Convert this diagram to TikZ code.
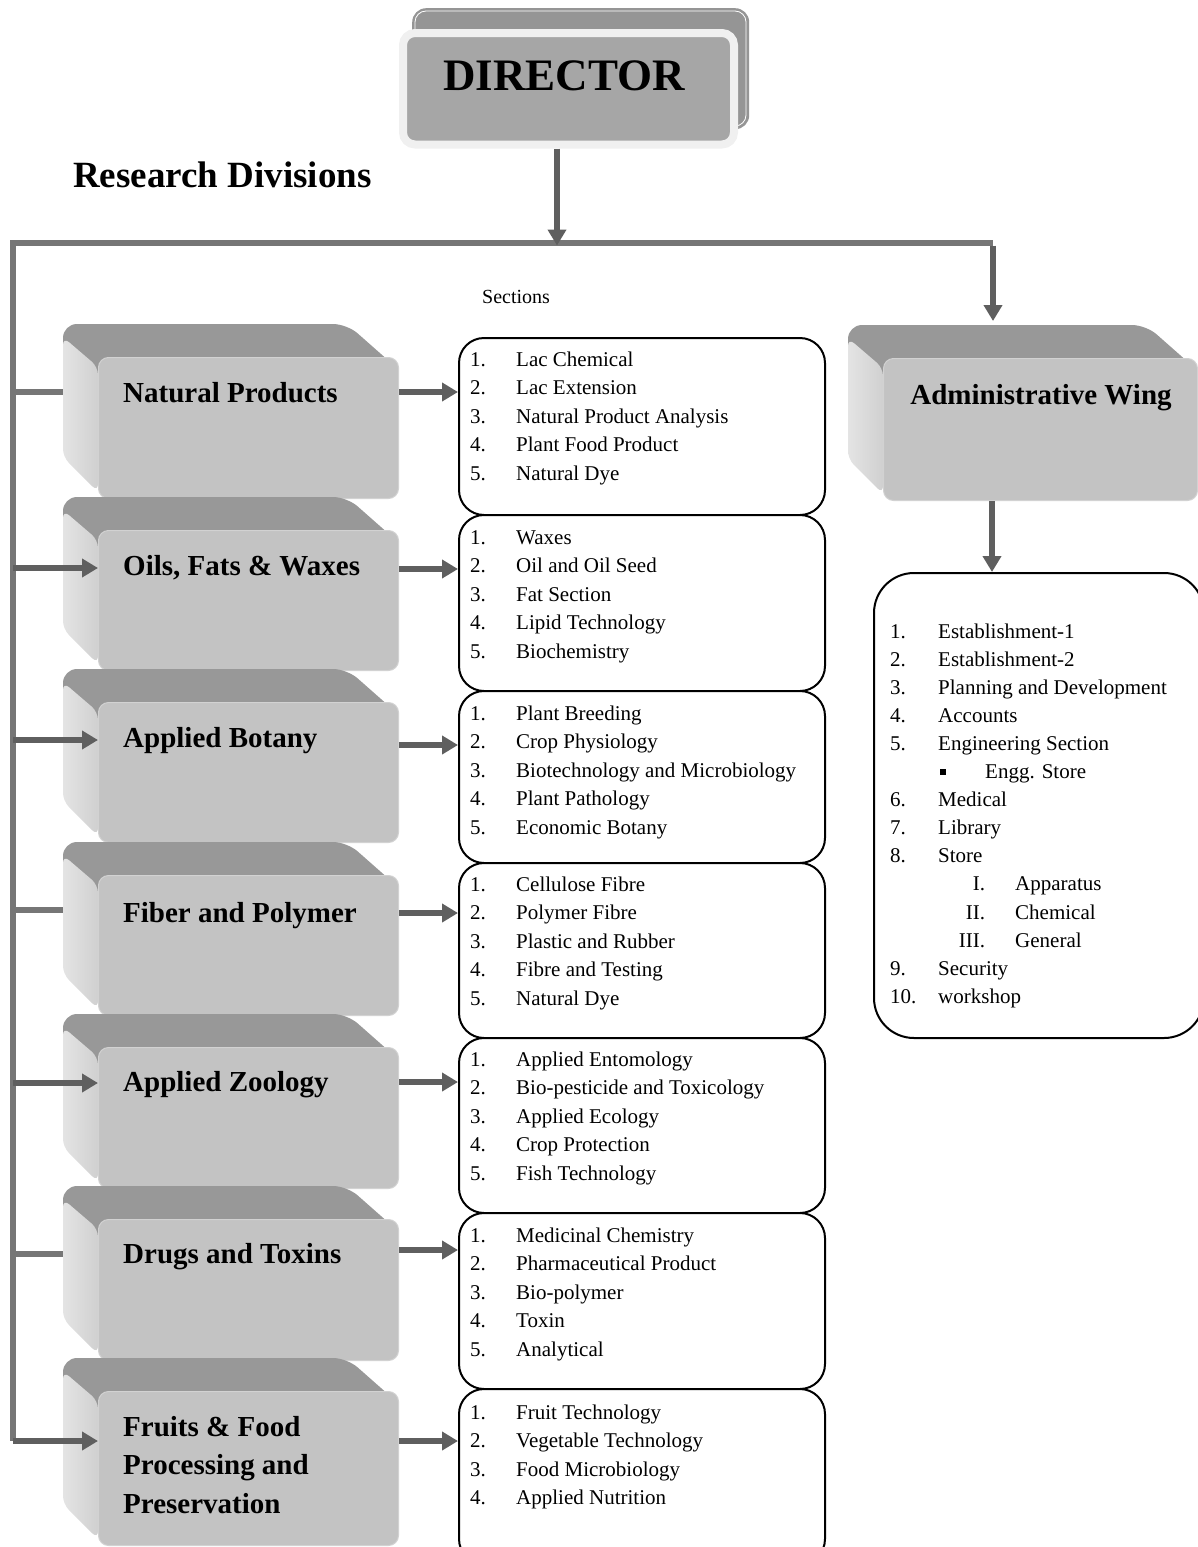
\documentclass[tikz,border=0pt]{standalone}
\usepackage{fontspec}
\setmainfont{Liberation Serif}
\usetikzlibrary{arrows.meta}
\pgfdeclarelayer{background}
\pgfsetlayers{background,main}
\definecolor{conn}{HTML}{5F5F5F}
\definecolor{bus}{HTML}{767676}
\definecolor{topc}{HTML}{989898}
\definecolor{leftl}{HTML}{E4E4E4}
\definecolor{leftd}{HTML}{D0D0D0}
\definecolor{frontc}{HTML}{C3C3C3}
\definecolor{frontrim}{HTML}{D2D2D2}
\definecolor{dirback}{HTML}{959595}
\definecolor{dirfront}{HTML}{A6A6A6}
\definecolor{dirrim}{HTML}{F0F0F0}
\tikzset{
  busline/.style={draw=bus, line width=5.5pt},
  arr/.style={draw=conn, line width=5.5pt, -{Triangle[length=16pt,width=18pt]}},
  frontface/.style={fill=frontc, draw=frontrim, line width=1pt, rounded corners=10pt, inner sep=0pt, anchor=north west},
  divtext/.style={font=\fontsize{29}{38.5}\selectfont\bfseries, inner sep=0pt, anchor=base west},
  listbox/.style={draw=black, line width=2pt, rounded corners=25pt, fill=white, inner sep=0pt, anchor=north west, minimum width=366pt},
  listtext/.style={font=\fontsize{21}{28.5}\selectfont, inner sep=0pt, anchor=base west},
}
% bevelled division box: name, x1, y1, x2, y2 of the front face
\newcommand\bevelbox[5]{%
  \fill[topc, rounded corners=14pt] ({#2-35},{#3-33}) -- ({#4-51},{#3-33}) -- (#4,{#3+12}) -- (#4,{#5-12}) -- (#2,{#5-12}) -- ({#2-35},{#5-41}) -- cycle;
  \shade[left color=leftl, right color=leftd, rounded corners=8pt] ({#2-35},{#3-20}) -- (#2,{#3+10}) -- (#2,{#5-6}) -- ({#2-35},{#5-41}) -- cycle;
  \node[frontface, minimum width={#4-#2}, minimum height={#5-#3}] (#1) at (#2,#3) {};
}
\newcommand\lst[2]{\makebox[46pt][l]{#1}#2}
\begin{document}
\begin{tikzpicture}[x=1pt,y=-1pt]
\useasboundingbox (0,0) rectangle (1198,1547);
\clip (0,0) rectangle (1198,1547);

% ---------- Director ----------
\node[fill=dirback, rounded corners=14pt, minimum width=337pt, minimum height=121pt, inner sep=0pt, anchor=north west] (dirbk) at (412,8) {};
\draw[white, line width=0.8pt, rounded corners=11pt] (415,11) rectangle (746,126);
\node[fill=dirfront, draw=dirrim, line width=8pt, rounded corners=12pt, minimum width=331pt, minimum height=111.5pt, inner sep=0pt, anchor=north west] (dir) at (399,29) {};
\node[font=\fontsize{45}{50}\selectfont\bfseries, anchor=base, inner sep=0pt] (dirt) at (564,90) {DIRECTOR};

\node[font=\fontsize{37}{40}\selectfont\bfseries, anchor=base west, inner sep=0pt] (rd) at (73,187) {Research Divisions};
\node[font=\fontsize{20}{24}\selectfont, anchor=base west, inner sep=0pt] (sec) at (482,303) {Sections};

% ---------- coordinates ----------
\coordinate (bj) at (557,243);
\coordinate (busL) at (13,243);
\coordinate (busR) at (993,243);
\coordinate (awin) at (993,321);
\coordinate (busB) at (13,1441);
\coordinate (b1) at (13,392);
\coordinate (b2) at (13,568);
\coordinate (b3) at (13,740);
\coordinate (b4) at (13,910);
\coordinate (b5) at (13,1083);
\coordinate (b6) at (13,1254);
\coordinate (b7) at (13,1441);
\coordinate (r1) at (0,392);
\coordinate (r2) at (0,569);
\coordinate (r3) at (0,745);
\coordinate (r4) at (0,913);
\coordinate (r5) at (0,1082);
\coordinate (r6) at (0,1250);
\coordinate (r7) at (0,1441);
\coordinate (ax) at (992,0);

% ---------- division boxes ----------
\bevelbox{np}{98}{357}{398}{498}
\bevelbox{ofw}{98}{530}{398}{670}
\bevelbox{ab}{98}{702}{398}{842}
\bevelbox{fp}{98}{875}{398}{1015}
\bevelbox{az}{98}{1047}{398}{1188}
\bevelbox{dt}{98}{1219}{398}{1360}
\bevelbox{ff}{98}{1391}{398}{1545}
\bevelbox{aw}{883}{358}{1197}{500}

\node[divtext] (npt) at (123,402) {Natural Products};
\node[divtext] (ofwt) at (123,575) {Oils, Fats \& Waxes};
\node[divtext] (abt) at (123,747) {Applied Botany};
\node[divtext] (fpt) at (123,922) {Fiber and Polymer};
\node[divtext] (azt) at (123,1091) {Applied Zoology};
\node[divtext] (dtt) at (123,1263) {Drugs and Toxins};
\node[divtext] (fft) at (123,1436) {\begin{tabular}[t]{@{}l@{}}Fruits \& Food\\Processing and\\Preservation\end{tabular}};
\node[divtext, anchor=base] (awt) at (1041,404) {Administrative Wing};

% ---------- section lists ----------
\node[listbox, minimum height=177pt] (npl) at (458,337) {};
\node[listbox, minimum height=176pt] (ofwl) at (458,514) {};
\node[listbox, minimum height=172pt] (abl) at (458,690) {};
\node[listbox, minimum height=175pt] (fpl) at (458,862) {};
\node[listbox, minimum height=175pt] (azl) at (458,1037) {};
\node[listbox, minimum height=176pt] (dtl) at (458,1212) {};
\node[listbox, minimum height=175pt] (ffl) at (458,1388) {};

\node[listtext] (npx) at (470,366) {\begin{tabular}[t]{@{}l@{}}
\lst{1.}{Lac Chemical}\\ \lst{2.}{Lac Extension}\\ \lst{3.}{Natural Product Analysis}\\ \lst{4.}{Plant Food Product}\\ \lst{5.}{Natural Dye}\end{tabular}};
\node[listtext] (ofwx) at (470,544) {\begin{tabular}[t]{@{}l@{}}
\lst{1.}{Waxes}\\ \lst{2.}{Oil and Oil Seed}\\ \lst{3.}{Fat Section}\\ \lst{4.}{Lipid Technology}\\ \lst{5.}{Biochemistry}\end{tabular}};
\node[listtext] (abx) at (470,720) {\begin{tabular}[t]{@{}l@{}}
\lst{1.}{Plant Breeding}\\ \lst{2.}{Crop Physiology}\\ \lst{3.}{Biotechnology and Microbiology}\\ \lst{4.}{Plant Pathology}\\ \lst{5.}{Economic Botany}\end{tabular}};
\node[listtext] (fpx) at (470,891) {\begin{tabular}[t]{@{}l@{}}
\lst{1.}{Cellulose Fibre}\\ \lst{2.}{Polymer Fibre}\\ \lst{3.}{Plastic and Rubber}\\ \lst{4.}{Fibre and Testing}\\ \lst{5.}{Natural Dye}\end{tabular}};
\node[listtext] (azx) at (470,1066) {\begin{tabular}[t]{@{}l@{}}
\lst{1.}{Applied Entomology}\\ \lst{2.}{Bio-pesticide and Toxicology}\\ \lst{3.}{Applied Ecology}\\ \lst{4.}{Crop Protection}\\ \lst{5.}{Fish Technology}\end{tabular}};
\node[listtext] (dtx) at (470,1242) {\begin{tabular}[t]{@{}l@{}}
\lst{1.}{Medicinal Chemistry}\\ \lst{2.}{Pharmaceutical Product}\\ \lst{3.}{Bio-polymer}\\ \lst{4.}{Toxin}\\ \lst{5.}{Analytical}\end{tabular}};
\node[listtext] (ffx) at (470,1419) {\begin{tabular}[t]{@{}l@{}}
\lst{1.}{Fruit Technology}\\ \lst{2.}{Vegetable Technology}\\ \lst{3.}{Food Microbiology}\\ \lst{4.}{Applied Nutrition}\end{tabular}};

% ---------- admin list ----------
\node[draw=black, line width=2pt, rounded corners=40pt, fill=white, inner sep=0pt, anchor=north west, minimum width=330pt, minimum height=465pt] (awl) at (873,572) {};
\node[font=\fontsize{21}{28.1}\selectfont, inner sep=0pt, anchor=base west] (awx) at (890,638) {\begin{tabular}[t]{@{}l@{}}
\makebox[48pt][l]{1.}Establishment-1\\
\makebox[48pt][l]{2.}Establishment-2\\
\makebox[48pt][l]{3.}Planning and Development\\
\makebox[48pt][l]{4.}Accounts\\
\makebox[48pt][l]{5.}Engineering Section\\
\hspace{50pt}\makebox[45pt][l]{\rule[4pt]{6pt}{6pt}}Engg. Store\\
\makebox[48pt][l]{6.}Medical\\
\makebox[48pt][l]{7.}Library\\
\makebox[48pt][l]{8.}Store\\
\makebox[95pt][r]{I.}\hspace{30pt}Apparatus\\
\makebox[95pt][r]{II.}\hspace{30pt}Chemical\\
\makebox[95pt][r]{III.}\hspace{30pt}General\\
\makebox[48pt][l]{9.}Security\\
\makebox[48pt][l]{10.}workshop
\end{tabular}};

% ---------- connectors ----------
\begin{pgfonlayer}{background}
  \draw[busline, line join=miter] (busR) -- (busL) -- (busB);
  \draw[busline] (b1) -- (b1 -| np.west);
  \draw[busline] (b4) -- (b4 -| fp.west);
  \draw[busline] (b6) -- (b6 -| dt.west);
\end{pgfonlayer}
\draw[arr] (dir.south -| bj) -- ([yshift=-2.5pt]bj);
\draw[arr] ([yshift=-2.5pt]busR) -- (awin);
\draw[arr] (b2) -- (b2 -| ofw.west);
\draw[arr] (b3) -- (b3 -| ab.west);
\draw[arr] (b5) -- (b5 -| az.west);
\draw[arr] (b7) -- (b7 -| ff.west);

\draw[arr] (np.east |- r1) -- (npl.west |- r1);
\draw[arr] (ofw.east |- r2) -- (ofwl.west |- r2);
\draw[arr] (ab.east |- r3) -- (abl.west |- r3);
\draw[arr] (fp.east |- r4) -- (fpl.west |- r4);
\draw[arr] (az.east |- r5) -- (azl.west |- r5);
\draw[arr] (dt.east |- r6) -- (dtl.west |- r6);
\draw[arr] (ff.east |- r7) -- (ffl.west |- r7);

\draw[arr] (aw.south -| ax) -- (awl.north -| ax);
\end{tikzpicture}
\end{document}
